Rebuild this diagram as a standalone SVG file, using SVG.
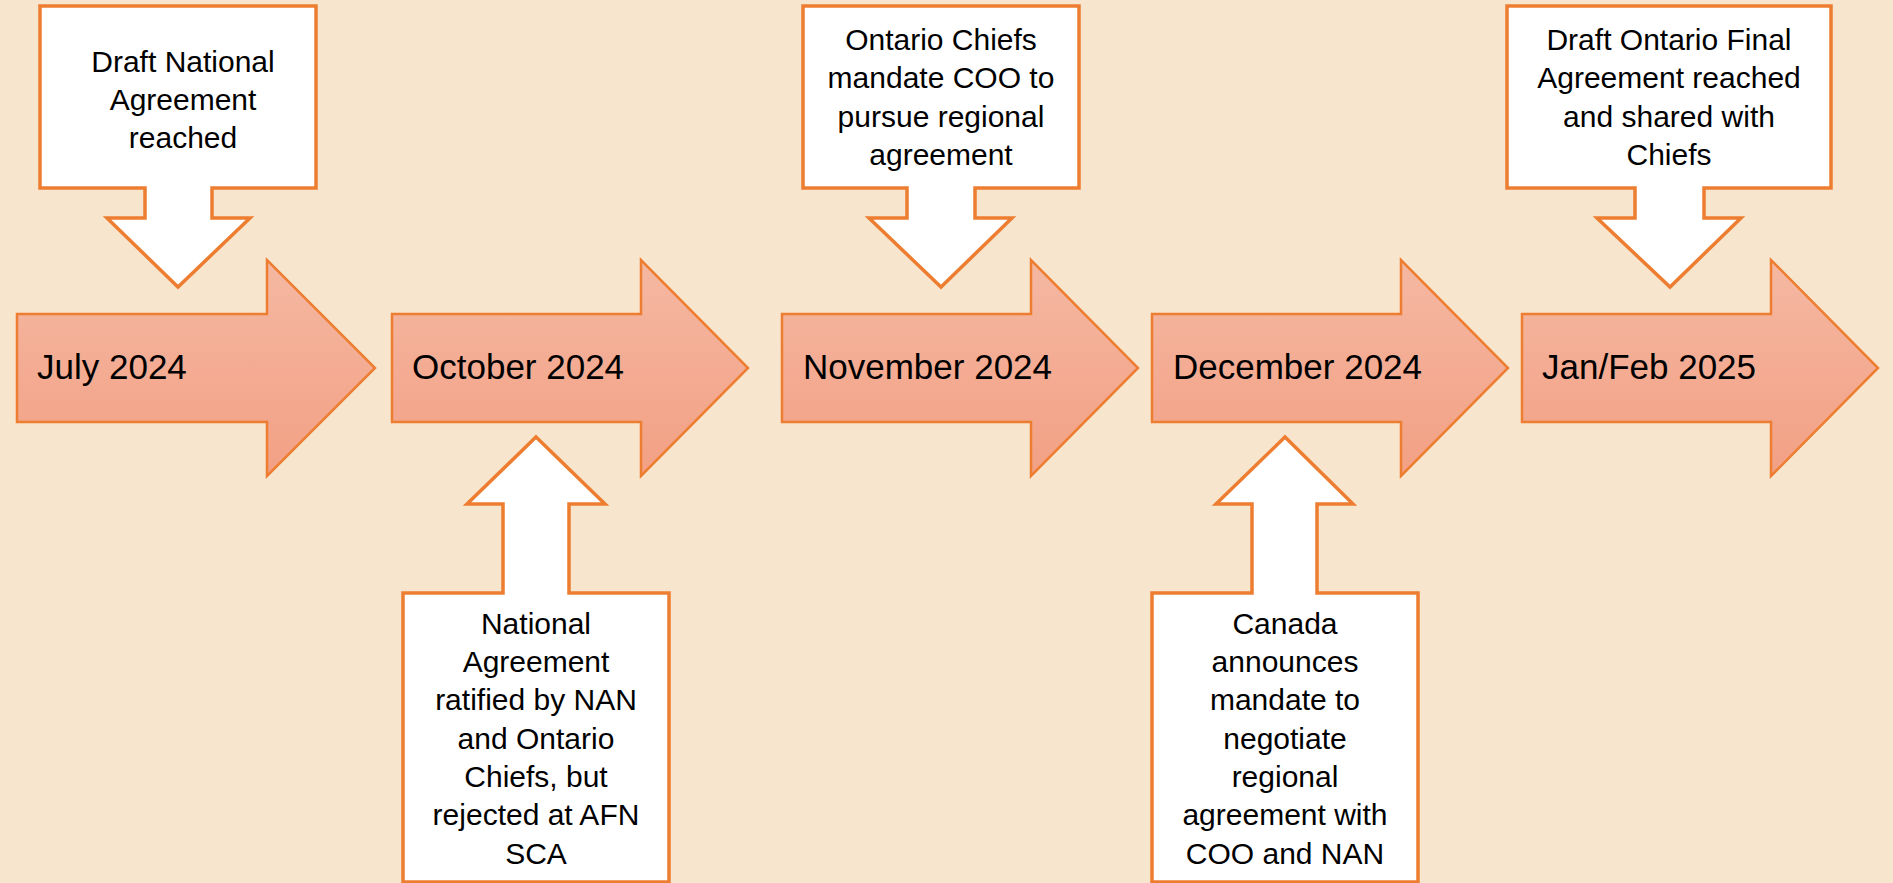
<svg xmlns="http://www.w3.org/2000/svg" width="1893" height="883" viewBox="0 0 1893 883">
  <defs>
    <linearGradient id="arrowFill" x1="0" y1="0" x2="0" y2="1">
      <stop offset="0" stop-color="#F5B8A2"/>
      <stop offset="1" stop-color="#F2A084"/>
    </linearGradient>
    <style>
      .arrow { fill: url(#arrowFill); stroke: #ED7D31; stroke-width: 2.5; stroke-linejoin: miter; }
      .callout { fill: #FFFFFF; stroke: #ED7D31; stroke-width: 3.5; stroke-linejoin: miter; }
      .date { font-family: "Liberation Sans", Arial, sans-serif; font-size: 35px; fill: #000000; }
      .note { font-family: "Liberation Sans", Arial, sans-serif; font-size: 30px; fill: #000000; text-anchor: middle; }
    </style>
  </defs>
  <rect x="0" y="0" width="1893" height="883" fill="#F8E5CD"/>

  <g id="connectors">
    <path class="callout" d="M40,6 H316 V188 H212 V218 H250 L178,287 L107,218 H145 V188 H40 Z"/>
    <path class="callout" d="M803,6 H1079 V188 H975 V218 H1012 L941,287 L869,218 H907 V188 H803 Z"/>
    <path class="callout" d="M1507,6 H1831 V188 H1704 V218 H1741 L1670,287 L1597,218 H1635 V188 H1507 Z"/>
    <path class="callout" d="M536,437 L605,504 H569 V593 H669 V882 H403 V593 H503 V504 H467 Z"/>
    <path class="callout" d="M1285,437 L1353,504 H1317 V593 H1418 V882 H1152 V593 H1252 V504 H1216 Z"/>
  </g>

  <g id="node-july">
    <path class="arrow" d="M17,314 H267 V260 L375,368 L267,476 V422 H17 Z"/>
    <text class="date" x="37" y="379">July 2024</text>
  </g>
  <g id="node-october">
    <path class="arrow" d="M392,314 H641 V260 L748,368 L641,476 V422 H392 Z"/>
    <text class="date" x="412" y="379">October 2024</text>
  </g>
  <g id="node-november">
    <path class="arrow" d="M782,314 H1031 V260 L1138,368 L1031,476 V422 H782 Z"/>
    <text class="date" x="803" y="379">November 2024</text>
  </g>
  <g id="node-december">
    <path class="arrow" d="M1152,314 H1401 V260 L1508,368 L1401,476 V422 H1152 Z"/>
    <text class="date" x="1173" y="379">December 2024</text>
  </g>
  <g id="node-janfeb">
    <path class="arrow" d="M1522,314 H1771 V260 L1878,368 L1771,476 V422 H1522 Z"/>
    <text class="date" x="1542" y="379">Jan/Feb 2025</text>
  </g>

  <g id="note-july">
    <text class="note" x="183" y="72">Draft National</text>
    <text class="note" x="183" y="110">Agreement</text>
    <text class="note" x="183" y="148">reached</text>
  </g>
  <g id="note-october">
    <text class="note" x="536" y="633.5">National</text>
    <text class="note" x="536" y="672">Agreement</text>
    <text class="note" x="536" y="710">ratified by NAN</text>
    <text class="note" x="536" y="748.5">and Ontario</text>
    <text class="note" x="536" y="787">Chiefs, but</text>
    <text class="note" x="536" y="825">rejected at AFN</text>
    <text class="note" x="536" y="863.5">SCA</text>
  </g>
  <g id="note-november">
    <text class="note" x="941" y="50">Ontario Chiefs</text>
    <text class="note" x="941" y="88">mandate COO to</text>
    <text class="note" x="941" y="127">pursue regional</text>
    <text class="note" x="941" y="165">agreement</text>
  </g>
  <g id="note-december">
    <text class="note" x="1285" y="633.5">Canada</text>
    <text class="note" x="1285" y="672">announces</text>
    <text class="note" x="1285" y="710">mandate to</text>
    <text class="note" x="1285" y="748.5">negotiate</text>
    <text class="note" x="1285" y="787">regional</text>
    <text class="note" x="1285" y="825">agreement with</text>
    <text class="note" x="1285" y="863.5">COO and NAN</text>
  </g>
  <g id="note-janfeb">
    <text class="note" x="1669" y="50">Draft Ontario Final</text>
    <text class="note" x="1669" y="88">Agreement reached</text>
    <text class="note" x="1669" y="127">and shared with</text>
    <text class="note" x="1669" y="165">Chiefs</text>
  </g>
</svg>
